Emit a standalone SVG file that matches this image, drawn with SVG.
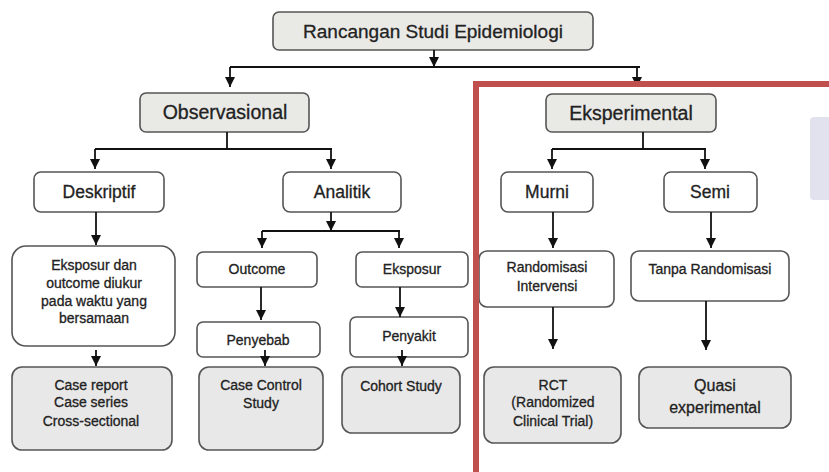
<svg xmlns="http://www.w3.org/2000/svg" width="829" height="472" viewBox="0 0 829 472">
<style>
.bx{fill:#ffffff;stroke:#555;stroke-width:1.6}
.gy{fill:#e9e9e6;stroke:#555;stroke-width:1.6}
.rs{fill:#e8e8e8;stroke:#555;stroke-width:1.6}
text{font-family:"Liberation Sans",Arial,sans-serif;fill:#222;stroke:#222;stroke-width:0.3;text-anchor:middle}
.t1{font-size:19px}
.t2{font-size:19.5px}
.t3{font-size:17.5px}
.t4{font-size:14px}
.t5{font-size:16px}
.cn{fill:none;stroke:#111;stroke-width:1.8}
</style>
<defs>
<marker id="ah" markerUnits="userSpaceOnUse" markerWidth="12" markerHeight="10" refX="10" refY="5" orient="auto">
<path d="M0,0 L10,5 L0,10 z" fill="#111"/>
</marker>
</defs>
<rect x="0" y="0" width="829" height="472" fill="#ffffff"/>
<rect x="810" y="117" width="25" height="83" rx="4" fill="#e2e2ef"/>

<g id="n-title"><rect class="gy" x="273" y="12" width="320" height="38" rx="6"/><text class="t1" x="433" y="38">Rancangan Studi Epidemiologi</text></g>
<g id="n-observasional"><rect class="gy" x="140" y="93" width="169" height="39" rx="6"/><text class="t2" x="225" y="119">Observasional</text></g>
<g id="n-eksperimental"><rect class="gy" x="546" y="94" width="170" height="38" rx="6"/><text class="t2" x="631" y="120">Eksperimental</text></g>
<g id="n-deskriptif"><rect class="bx" x="34" y="172" width="130" height="40" rx="7"/><text class="t3" x="99" y="198">Deskriptif</text></g>
<g id="n-analitik"><rect class="bx" x="283" y="172" width="118" height="40" rx="7"/><text class="t3" x="342" y="198">Analitik</text></g>
<g id="n-murni"><rect class="bx" x="501" y="172" width="92" height="40" rx="7"/><text class="t3" x="547" y="198">Murni</text></g>
<g id="n-semi"><rect class="bx" x="664" y="172" width="93" height="40" rx="7"/><text class="t3" x="710" y="198">Semi</text></g>

<g id="n-eksposur-dan"><rect class="bx" x="12" y="246" width="163" height="100" rx="14"/>
<text class="t4" x="94" y="270">Eksposur dan</text><text class="t4" x="94" y="288">outcome diukur</text><text class="t4" x="94" y="306">pada waktu yang</text><text class="t4" x="94" y="323">bersamaan</text></g>
<g id="n-case-report"><rect class="rs" x="12" y="367" width="160" height="83" rx="10"/>
<text class="t4" x="91" y="390">Case report</text><text class="t4" x="91" y="407">Case series</text><text class="t4" x="91" y="426">Cross-sectional</text></g>

<g id="n-outcome"><rect class="bx" x="197" y="252" width="120" height="35" rx="6"/><text class="t4" x="257" y="274">Outcome</text></g>
<g id="n-eksposur"><rect class="bx" x="356" y="252" width="112" height="35" rx="6"/><text class="t4" x="412" y="274">Eksposur</text></g>
<g id="n-penyebab"><rect class="bx" x="197" y="322" width="123" height="35" rx="6"/><text class="t4" x="258" y="345">Penyebab</text></g>
<g id="n-penyakit"><rect class="bx" x="350" y="317" width="118" height="40" rx="6"/><text class="t4" x="409" y="341">Penyakit</text></g>
<g id="n-case-control"><rect class="rs" x="199" y="367" width="124" height="83" rx="10"/>
<text class="t4" x="261" y="390">Case Control</text><text class="t4" x="261" y="408">Study</text></g>
<g id="n-cohort"><rect class="rs" x="342" y="367" width="118" height="66" rx="10"/><text class="t4" x="401" y="391">Cohort Study</text></g>

<g id="n-randomisasi"><rect class="bx" x="479" y="251" width="135" height="56" rx="8"/>
<text class="t4" x="547" y="272">Randomisasi</text><text class="t4" x="547" y="291">Intervensi</text></g>
<g id="n-tanpa"><rect class="bx" x="631" y="251" width="158" height="50" rx="8"/><text class="t4" x="710" y="274">Tanpa Randomisasi</text></g>
<g id="n-rct"><rect class="rs" x="484" y="367" width="137" height="76" rx="10"/>
<text class="t4" x="553" y="390">RCT</text><text class="t4" x="553" y="407">(Randomized</text><text class="t4" x="553" y="426">Clinical Trial)</text></g>
<g id="n-quasi"><rect class="rs" x="639" y="367" width="152" height="61" rx="10"/>
<text class="t5" x="715" y="391">Quasi</text><text class="t5" x="715" y="413">experimental</text></g>

<g id="connectors">
<path class="cn" d="M434,50 V67" marker-end="url(#ah)"/>
<path class="cn" d="M230,67 H640"/>
<path class="cn" d="M230,67 V87" marker-end="url(#ah)"/>
<path class="cn" d="M637,67 V87" marker-end="url(#ah)"/>
<path class="cn" d="M227,132 V149 M95,149 H332"/>
<path class="cn" d="M95,149 V169" marker-end="url(#ah)"/>
<path class="cn" d="M331,149 V169" marker-end="url(#ah)"/>
<path class="cn" d="M643,132 V149 M552,149 H706"/>
<path class="cn" d="M552,149 V169" marker-end="url(#ah)"/>
<path class="cn" d="M705,149 V169" marker-end="url(#ah)"/>
<path class="cn" d="M96,212 V245" marker-end="url(#ah)"/>
<path class="cn" d="M96,350 V366" marker-end="url(#ah)"/>
<path class="cn" d="M331,212 V231" marker-end="url(#ah)"/>
<path class="cn" d="M262,231 H400"/>
<path class="cn" d="M262,231 V248" marker-end="url(#ah)"/>
<path class="cn" d="M399,231 V248" marker-end="url(#ah)"/>
<path class="cn" d="M261,287 V320" marker-end="url(#ah)"/>
<path class="cn" d="M400,287 V317" marker-end="url(#ah)"/>
<path class="cn" d="M265,350 V366" marker-end="url(#ah)"/>
<path class="cn" d="M402,350 V366" marker-end="url(#ah)"/>
<path class="cn" d="M553,212 V248" marker-end="url(#ah)"/>
<path class="cn" d="M711,212 V248" marker-end="url(#ah)"/>
<path class="cn" d="M553,307 V349" marker-end="url(#ah)"/>
<path class="cn" d="M706,301 V350" marker-end="url(#ah)"/>
</g>

<rect x="476" y="84" width="370" height="400" fill="none" stroke="#c0504d" stroke-width="6"/>
</svg>
